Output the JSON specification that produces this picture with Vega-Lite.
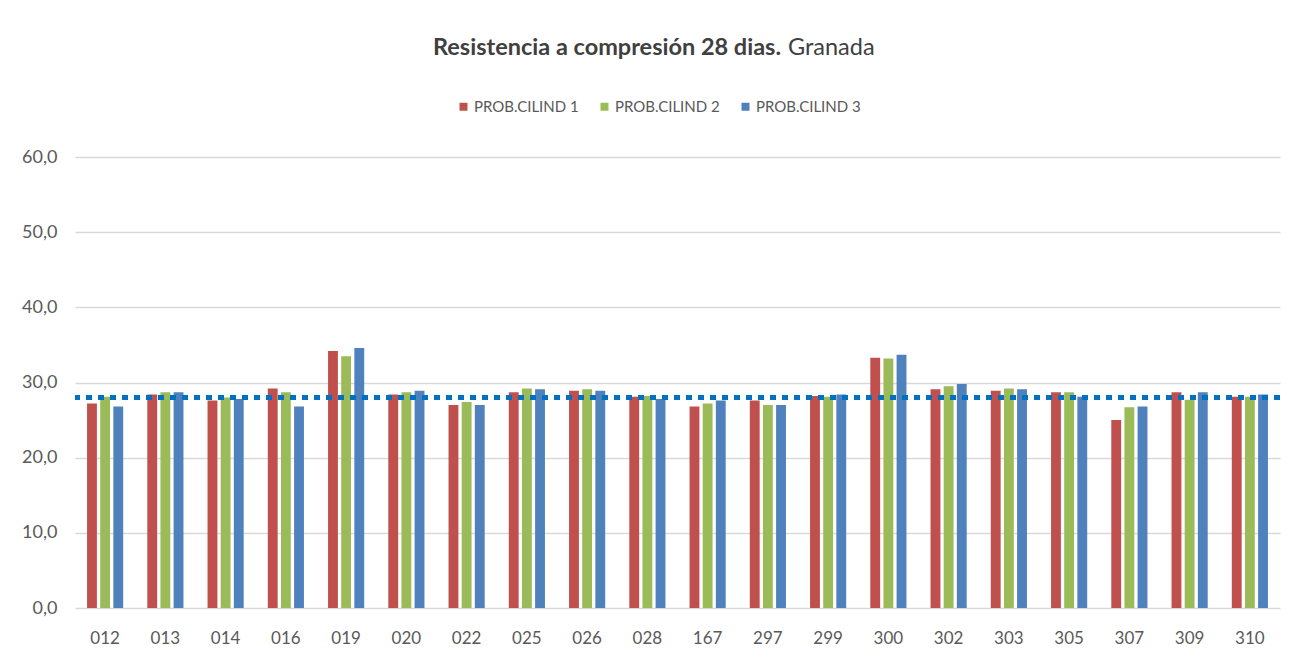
{
  "$schema": "https://vega.github.io/schema/vega-lite/v6.json",
  "width": 1205,
  "height": 451,
  "autosize": {"type": "none"},
  "padding": {"left": 75, "top": 157, "right": 27, "bottom": 58},
  "background": "white",
  "title": {
    "text": "Resistencia a compresión 28 dias.",
    "subtitle": "\u200b\u00a0\u00a0\u00a0\u00a0\u00a0\u00a0\u00a0\u00a0\u00a0\u00a0\u00a0\u00a0\u00a0\u00a0\u00a0\u00a0\u00a0\u00a0\u00a0\u00a0\u00a0\u00a0\u00a0\u00a0\u00a0\u00a0\u00a0\u00a0\u00a0\u00a0\u00a0\u00a0\u00a0\u00a0\u00a0\u00a0\u00a0\u00a0\u00a0\u00a0\u00a0\u00a0\u00a0\u00a0\u00a0\u00a0\u00a0\u00a0\u00a0\u00a0\u00a0\u00a0\u00a0\u00a0\u00a0\u00a0\u00a0\u00a0\u00a0Granada",
    "anchor": "start",
    "frame": "group",
    "dx": 358,
    "offset": 40,
    "font": "Lato",
    "fontSize": 23.5,
    "fontWeight": "bold",
    "color": "#404040",
    "subtitleFont": "Lato",
    "subtitleFontSize": 23.5,
    "subtitleFontWeight": "normal",
    "subtitleColor": "#404040",
    "subtitlePadding": -23.5
  },
  "config": {
    "view": {"stroke": null},
    "font": "Lato",
    "axis": {
      "labelFont": "Lato",
      "labelColor": "#595959",
      "labelFontSize": 17,
      "ticks": false,
      "domain": false,
      "title": null
    }
  },
  "data": {
    "values": [
      {"probeta": "012", "serie": "PROB.CILIND 1", "valor": 27.2},
      {"probeta": "012", "serie": "PROB.CILIND 2", "valor": 28.1},
      {"probeta": "012", "serie": "PROB.CILIND 3", "valor": 26.8},
      {"probeta": "013", "serie": "PROB.CILIND 1", "valor": 28.4},
      {"probeta": "013", "serie": "PROB.CILIND 2", "valor": 28.7},
      {"probeta": "013", "serie": "PROB.CILIND 3", "valor": 28.7},
      {"probeta": "014", "serie": "PROB.CILIND 1", "valor": 27.6},
      {"probeta": "014", "serie": "PROB.CILIND 2", "valor": 28.0},
      {"probeta": "014", "serie": "PROB.CILIND 3", "valor": 27.8},
      {"probeta": "016", "serie": "PROB.CILIND 1", "valor": 29.2},
      {"probeta": "016", "serie": "PROB.CILIND 2", "valor": 28.7},
      {"probeta": "016", "serie": "PROB.CILIND 3", "valor": 26.8},
      {"probeta": "019", "serie": "PROB.CILIND 1", "valor": 34.2},
      {"probeta": "019", "serie": "PROB.CILIND 2", "valor": 33.5},
      {"probeta": "019", "serie": "PROB.CILIND 3", "valor": 34.6},
      {"probeta": "020", "serie": "PROB.CILIND 1", "valor": 28.4},
      {"probeta": "020", "serie": "PROB.CILIND 2", "valor": 28.7},
      {"probeta": "020", "serie": "PROB.CILIND 3", "valor": 28.9},
      {"probeta": "022", "serie": "PROB.CILIND 1", "valor": 27.0},
      {"probeta": "022", "serie": "PROB.CILIND 2", "valor": 27.4},
      {"probeta": "022", "serie": "PROB.CILIND 3", "valor": 27.0},
      {"probeta": "025", "serie": "PROB.CILIND 1", "valor": 28.7},
      {"probeta": "025", "serie": "PROB.CILIND 2", "valor": 29.2},
      {"probeta": "025", "serie": "PROB.CILIND 3", "valor": 29.1},
      {"probeta": "026", "serie": "PROB.CILIND 1", "valor": 28.9},
      {"probeta": "026", "serie": "PROB.CILIND 2", "valor": 29.1},
      {"probeta": "026", "serie": "PROB.CILIND 3", "valor": 28.9},
      {"probeta": "028", "serie": "PROB.CILIND 1", "valor": 28.1},
      {"probeta": "028", "serie": "PROB.CILIND 2", "valor": 28.2},
      {"probeta": "028", "serie": "PROB.CILIND 3", "valor": 27.8},
      {"probeta": "167", "serie": "PROB.CILIND 1", "valor": 26.8},
      {"probeta": "167", "serie": "PROB.CILIND 2", "valor": 27.2},
      {"probeta": "167", "serie": "PROB.CILIND 3", "valor": 27.6},
      {"probeta": "297", "serie": "PROB.CILIND 1", "valor": 27.6},
      {"probeta": "297", "serie": "PROB.CILIND 2", "valor": 27.0},
      {"probeta": "297", "serie": "PROB.CILIND 3", "valor": 27.0},
      {"probeta": "299", "serie": "PROB.CILIND 1", "valor": 28.2},
      {"probeta": "299", "serie": "PROB.CILIND 2", "valor": 28.1},
      {"probeta": "299", "serie": "PROB.CILIND 3", "valor": 28.4},
      {"probeta": "300", "serie": "PROB.CILIND 1", "valor": 33.3},
      {"probeta": "300", "serie": "PROB.CILIND 2", "valor": 33.2},
      {"probeta": "300", "serie": "PROB.CILIND 3", "valor": 33.7},
      {"probeta": "302", "serie": "PROB.CILIND 1", "valor": 29.1},
      {"probeta": "302", "serie": "PROB.CILIND 2", "valor": 29.5},
      {"probeta": "302", "serie": "PROB.CILIND 3", "valor": 29.8},
      {"probeta": "303", "serie": "PROB.CILIND 1", "valor": 28.9},
      {"probeta": "303", "serie": "PROB.CILIND 2", "valor": 29.2},
      {"probeta": "303", "serie": "PROB.CILIND 3", "valor": 29.1},
      {"probeta": "305", "serie": "PROB.CILIND 1", "valor": 28.7},
      {"probeta": "305", "serie": "PROB.CILIND 2", "valor": 28.7},
      {"probeta": "305", "serie": "PROB.CILIND 3", "valor": 28.1},
      {"probeta": "307", "serie": "PROB.CILIND 1", "valor": 25.0},
      {"probeta": "307", "serie": "PROB.CILIND 2", "valor": 26.7},
      {"probeta": "307", "serie": "PROB.CILIND 3", "valor": 26.8},
      {"probeta": "309", "serie": "PROB.CILIND 1", "valor": 28.7},
      {"probeta": "309", "serie": "PROB.CILIND 2", "valor": 27.7},
      {"probeta": "309", "serie": "PROB.CILIND 3", "valor": 28.7},
      {"probeta": "310", "serie": "PROB.CILIND 1", "valor": 28.1},
      {"probeta": "310", "serie": "PROB.CILIND 2", "valor": 28.1},
      {"probeta": "310", "serie": "PROB.CILIND 3", "valor": 28.4}
    ]
  },
  "layer": [
    {
      "mark": {"type": "bar"},
      "encoding": {
        "x": {
          "field": "probeta",
          "type": "nominal",
          "sort": null,
          "scale": {"paddingInner": 0.4, "paddingOuter": 0.2},
          "axis": {"labelAngle": 0, "labelPadding": 22, "grid": false}
        },
        "xOffset": {"field": "serie", "type": "nominal", "scale": {"paddingInner": 0.25}},
        "y": {
          "field": "valor",
          "type": "quantitative",
          "scale": {"domain": [0, 60], "nice": false},
          "axis": {
            "values": [0, 10, 20, 30, 40, 50, 60],
            "labelExpr": "replace(format(datum.value, '.1f'), '.', ',')",
            "labelPadding": 18,
            "labelFontSize": 18,
            "grid": true,
            "gridColor": "#D9D9D9",
            "gridWidth": 1.5
          }
        },
        "color": {
          "field": "serie",
          "type": "nominal",
          "scale": {
            "domain": ["PROB.CILIND 1", "PROB.CILIND 2", "PROB.CILIND 3"],
            "range": ["#C0504D", "#9BBB59", "#4F81BD"]
          },
          "legend": {
            "orient": "none",
            "legendX": 381,
            "legendY": -58,
            "direction": "horizontal",
            "title": null,
            "symbolType": "square",
            "symbolSize": 64,
            "symbolStrokeWidth": 0,
            "labelFont": "Lato",
            "labelFontSize": 15,
            "labelColor": "#595959",
            "columnPadding": 18,
            "labelOffset": 3
          }
        }
      }
    },
    {
      "mark": {"type": "rule", "color": "#0070C0", "strokeWidth": 5, "strokeDash": [6, 6]},
      "encoding": {"y": {"datum": 28}}
    }
  ]
}
